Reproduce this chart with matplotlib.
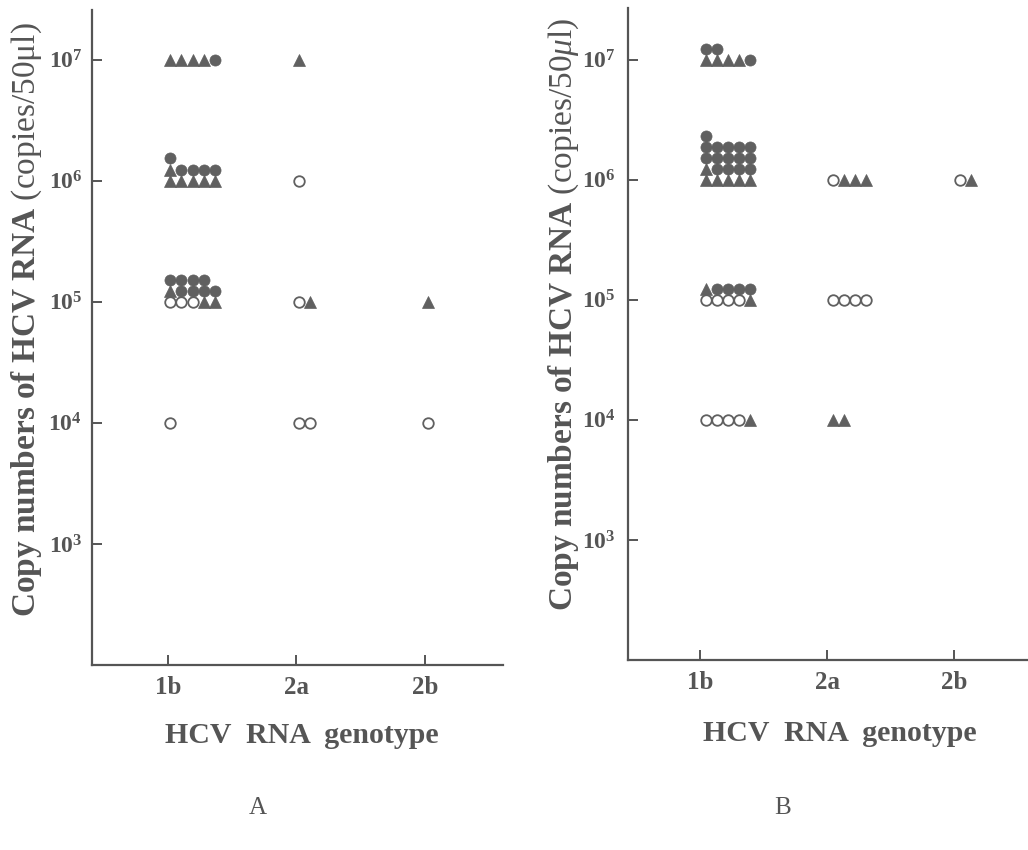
import matplotlib
matplotlib.use("Agg")
import matplotlib.pyplot as plt

plt.rcParams['font.family'] = ['Liberation Serif', 'DejaVu Serif']
plt.rcParams['mathtext.fontset'] = 'custom'
plt.rcParams['mathtext.rm'] = 'Liberation Serif'
plt.rcParams['mathtext.bf'] = 'Liberation Serif:bold'
plt.rcParams['mathtext.it'] = 'Liberation Serif:italic'

# categories and axis ticks
genotypes = ["1b", "2a", "2b"]
decades = [1e3, 1e4, 1e5, 1e6, 1e7]
decade_labels = [r"$\mathbf{10^{3}}$", r"$\mathbf{10^{4}}$", r"$\mathbf{10^{5}}$",
                 r"$\mathbf{10^{6}}$", r"$\mathbf{10^{7}}$"]

# each group: genotype, copy number, rows of symbols from bottom to top
# T = filled triangle, C = filled circle, O = open circle
groups_a = [
    ("1b", 1e7, ["TTTTC"]),
    ("1b", 1e6, ["TTTTT", "TCCCC", "C"]),
    ("1b", 1e5, ["OOOTT", "TCCCC", "CCCC"]),
    ("1b", 1e4, ["O"]),
    ("2a", 1e7, ["T"]),
    ("2a", 1e6, ["O"]),
    ("2a", 1e5, ["OT"]),
    ("2a", 1e4, ["OO"]),
    ("2b", 1e5, ["T"]),
    ("2b", 1e4, ["O"]),
]

groups_b = [
    ("1b", 1e7, ["TTTTC", "CC"]),
    ("1b", 1e6, ["TTTTT", "TCCCC", "CCCCC", "CCCCC", "C"]),
    ("1b", 1e5, ["OOOOT", "TCCCC"]),
    ("1b", 1e4, ["OOOOT"]),
    ("2a", 1e6, ["OTTT"]),
    ("2a", 1e5, ["OOOO"]),
    ("2a", 1e4, ["TT"]),
    ("2b", 1e6, ["OT"]),
]

gray = "#606060"
text_gray = "#555555"
marker_style = {
    "T": dict(marker="^", ms=8.8, mfc=gray, mec=gray, mew=0.5),
    "C": dict(marker="o", ms=8.0, mfc=gray, mec=gray, mew=0.5),
    "O": dict(marker="o", ms=7.6, mfc="white", mec=gray, mew=1.3),
}

col_step = 0.086     # horizontal step between neighbouring symbols
row_step = 0.092     # vertical step (in decades) between stacked rows


def draw_panel(ax, groups, x_offset, xlim, ylim, ylabel, xlab_pos, ylab_pos, ypad):
    for geno, level, rows in groups:
        x0 = genotypes.index(geno) + 1 + x_offset
        for r, row in enumerate(rows):
            y = level * 10 ** (r * row_step)
            for c, sym in enumerate(row):
                ax.plot([x0 + c * col_step], [y], ls="none", **marker_style[sym])

    ax.set_yscale("log")
    ax.set_xlim(*xlim)
    ax.set_ylim(*ylim)
    ax.set_yticks(decades)
    ax.set_yticklabels(decade_labels)
    ax.yaxis.set_minor_locator(matplotlib.ticker.NullLocator())
    ax.set_xticks([1, 2, 3])
    ax.set_xticklabels(genotypes, fontweight="bold")

    for side in ["top", "right"]:
        ax.spines[side].set_visible(False)
    for side in ["left", "bottom"]:
        ax.spines[side].set_linewidth(1.6)
        ax.spines[side].set_color(text_gray)

    ax.tick_params(axis="y", direction="in", length=7, width=1.4, colors=text_gray,
                   labelsize=17, pad=ypad)
    ax.tick_params(axis="x", direction="in", length=7, width=1.4, colors=text_gray,
                   labelsize=18, pad=8)

    ax.set_xlabel("HCV  RNA  genotype", fontsize=21.5, fontweight="bold", color=text_gray)
    ax.xaxis.label.set_va("center")
    ax.xaxis.set_label_coords(*xlab_pos)
    ax.set_ylabel(ylabel, fontsize=24, color=text_gray)
    ax.yaxis.label.set_va("center")
    ax.yaxis.set_label_coords(*ylab_pos)


fig = plt.figure(figsize=(10.28, 8.5), dpi=100)
ax_a = fig.add_axes([0.0895, 0.2176, 0.3998, 0.7706])
ax_b = fig.add_axes([0.611, 0.2235, 0.389, 0.767])

label_a = r"$\mathbf{Copy\ numbers\ of\ HCV\ RNA}$ (copies/50μl)"
label_b = r"$\mathbf{Copy\ numbers\ of\ HCV\ RNA}$ (copies/50$\mathit{\mu}$l)"

draw_panel(ax_a, groups_a, 0.02, (0.41, 3.607), (1e2, 10 ** 7.41), label_a,
           (0.511, -0.107), (-0.158, 0.528), 7)
draw_panel(ax_b, groups_b, 0.05, (0.433, 3.583), (1e2, 10 ** 7.43), label_b,
           (0.53, -0.112), (-0.162, 0.53), 9)

fig.text(258 / 1028, 1 - 808 / 850, "A", fontsize=18, color=text_gray, ha="center", va="center")
fig.text(783 / 1028, 1 - 808 / 850, "B", fontsize=18, color=text_gray, ha="center", va="center")

fig.savefig("out.png", dpi=100, facecolor="white")
